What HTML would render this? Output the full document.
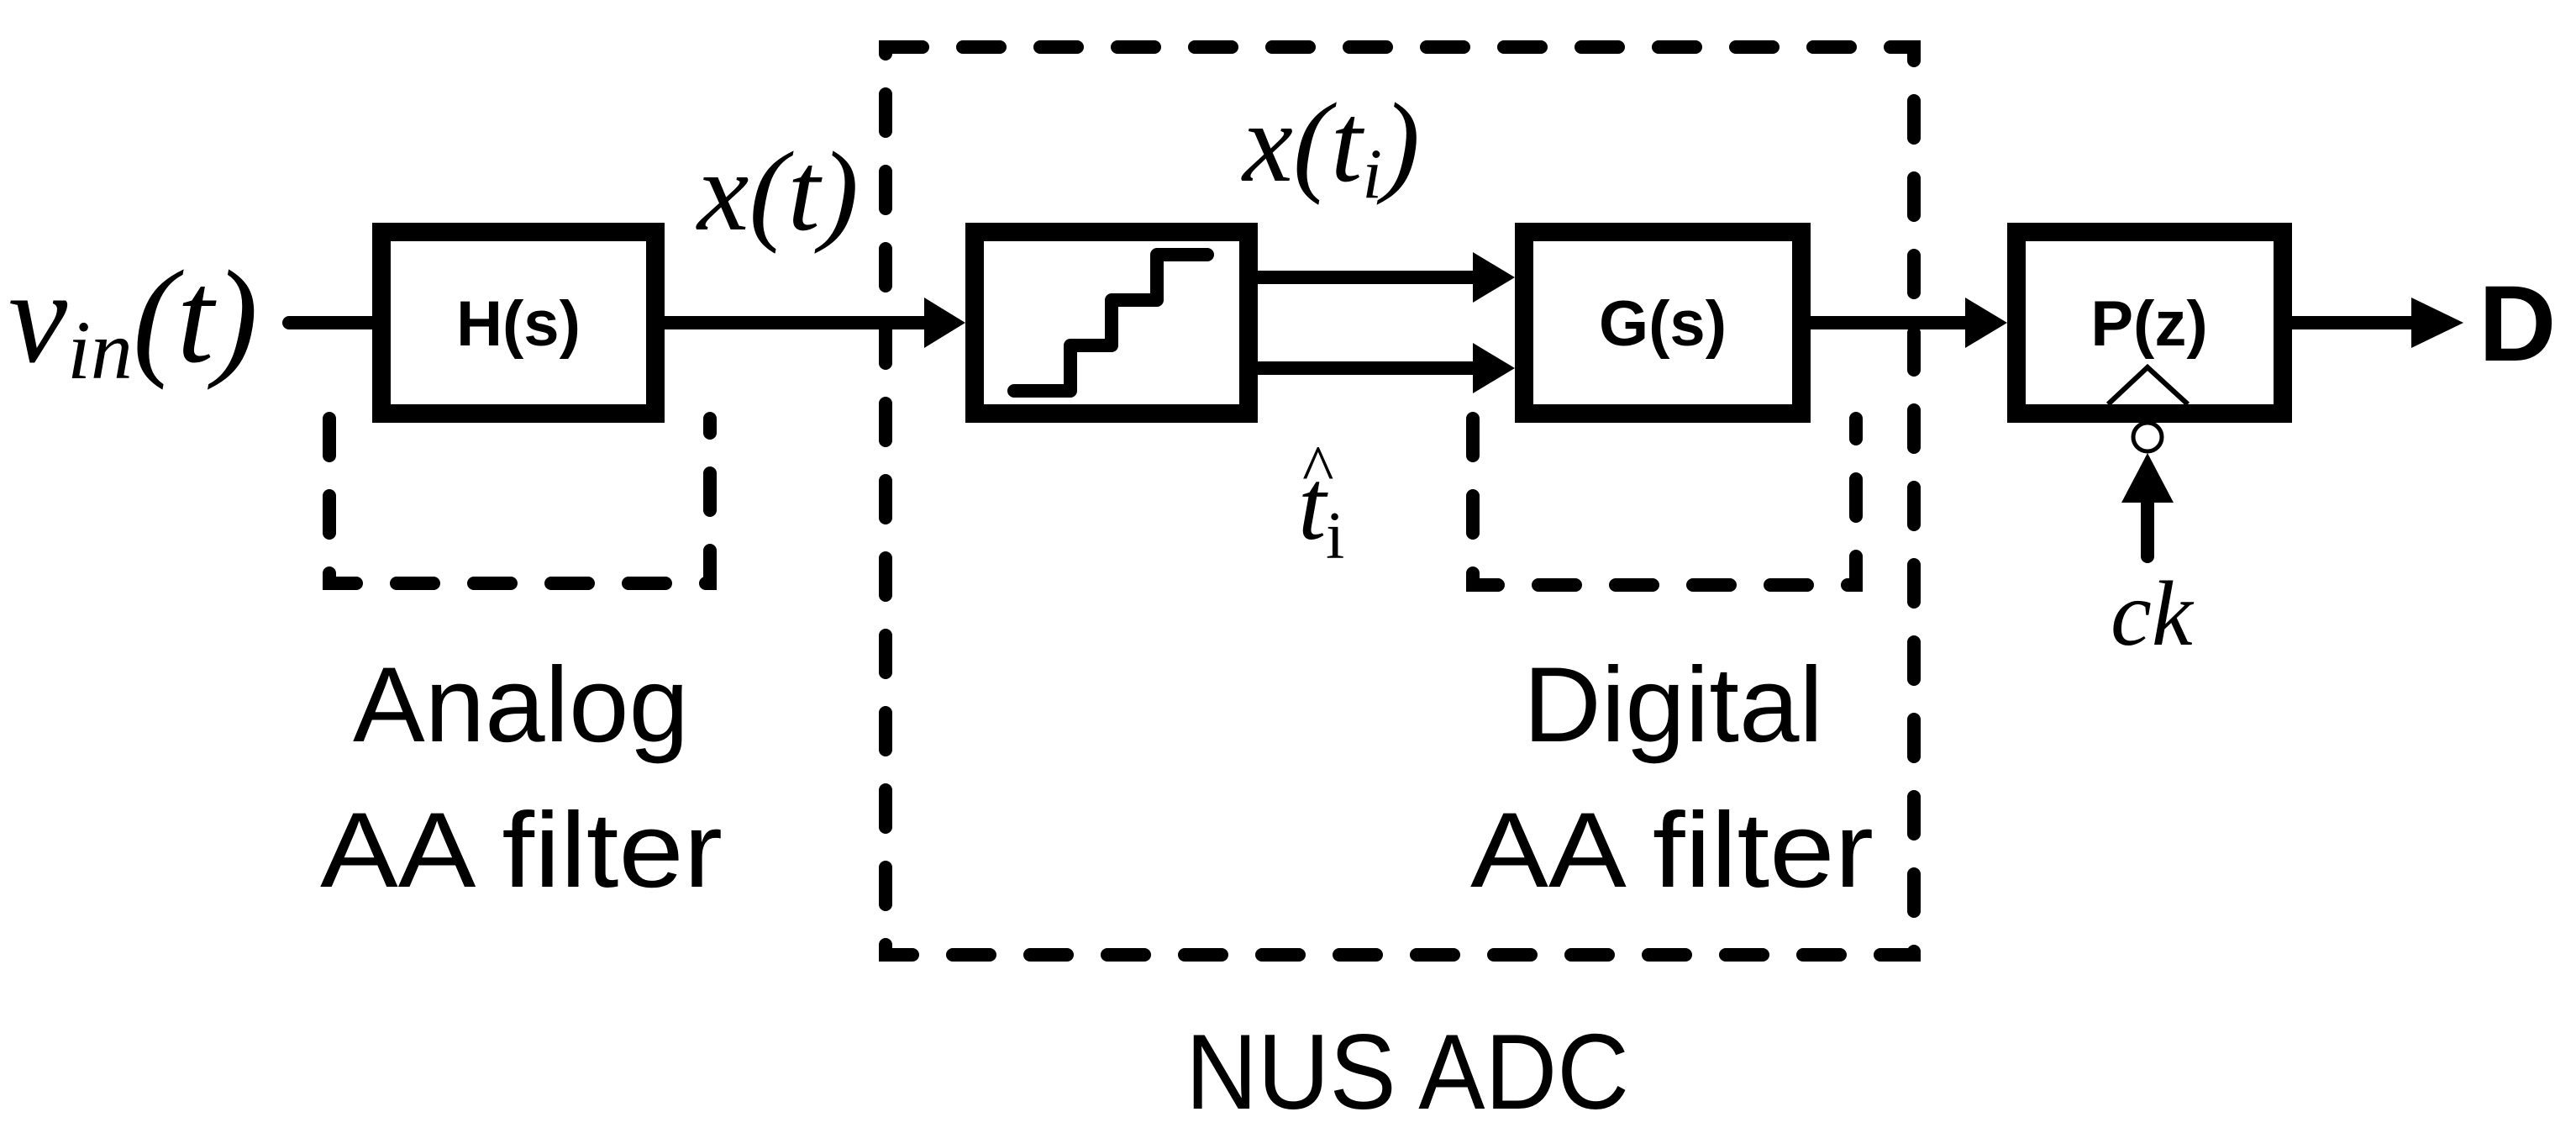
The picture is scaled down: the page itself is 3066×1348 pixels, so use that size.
<!DOCTYPE html>
<html><head><meta charset="utf-8"><style>html,body{margin:0;padding:0;background:#fff}svg{display:block}</style></head>
<body>
<svg width="3066" height="1348" viewBox="0 0 3066 1348" xmlns="http://www.w3.org/2000/svg">
<rect width="3066" height="1348" fill="#fff"/>
<g fill="none" stroke="#000" stroke-width="16" stroke-linecap="round" stroke-dasharray="44 48">
  <rect x="1054" y="56" width="1224" height="1080"/>
  <path d="M392 498 V694 H845 V498"/>
  <path d="M1753 498 V696 H2209 V498"/>
</g>
<g fill="none" stroke="#000" stroke-width="22">
  <rect x="454" y="276" width="326" height="216"/>
  <rect x="1160" y="276" width="326" height="216"/>
  <rect x="1814" y="276" width="330" height="216"/>
  <rect x="2400" y="276" width="317" height="216"/>
</g>
<g stroke="#000" stroke-width="16" fill="none">
  <line x1="344" y1="384" x2="443" y2="384" stroke-linecap="round"/>
  <line x1="791" y1="384" x2="1105" y2="384"/>
  <line x1="1497" y1="330" x2="1758" y2="330"/>
  <line x1="1497" y1="438" x2="1758" y2="438"/>
  <line x1="2155" y1="384" x2="2345" y2="384"/>
  <line x1="2728" y1="384" x2="2875" y2="384"/>
  <line x1="2556" y1="595" x2="2556" y2="662" stroke-linecap="round"/>
  <path d="M1207 465 H1274 V411 H1323 V357 H1377 V303 H1437" stroke-linecap="round" stroke-linejoin="round"/>
</g>
<g fill="#000">
  <polygon points="1100,354 1149,384 1100,414"/>
  <polygon points="1753,300 1803,330 1753,360"/>
  <polygon points="1753,408 1803,438 1753,468"/>
  <polygon points="2339,354 2389,384 2339,414"/>
  <polygon points="2870,354 2932,384 2870,414"/>
  <polygon points="2556,539 2525,598 2587,598"/>
</g>
<polyline points="2509,481 2556,437 2604,481" fill="none" stroke="#000" stroke-width="6"/>
<ellipse cx="2556" cy="520" rx="17" ry="17" fill="#fff" stroke="#000" stroke-width="5"/>

<g font-family="Liberation Sans, sans-serif" font-weight="bold" font-size="76" text-anchor="middle">
  <text x="617" y="411">H(s)</text>
  <text x="1979" y="411">G(s)</text>
  <text x="2558" y="411">P(z)</text>
  <text x="2950" y="429" font-size="128" text-anchor="start">D</text>
</g>
<g font-family="Liberation Sans, sans-serif" font-size="127">
  <text x="420" y="882" textLength="400" lengthAdjust="spacingAndGlyphs">Analog</text>
  <text x="381" y="1055" textLength="479" lengthAdjust="spacingAndGlyphs">AA filter</text>
  <text x="1813" y="882" textLength="357" lengthAdjust="spacingAndGlyphs">Digital</text>
  <text x="1750" y="1055" textLength="480" lengthAdjust="spacingAndGlyphs">AA filter</text>
  <text x="1411" y="1319" textLength="528" lengthAdjust="spacingAndGlyphs">NUS ADC</text>
</g>
<g font-family="Liberation Serif, serif" font-style="italic">
  <text x="10" y="430" font-size="158">v<tspan font-size="100" dy="20">in</tspan><tspan dy="-20">(t)</tspan></text>
  <text x="830" y="273" font-size="135" textLength="192" lengthAdjust="spacingAndGlyphs">x(t)</text>
  <text x="1479" y="215" font-size="135">x(t<tspan font-size="85" dy="20">i</tspan><tspan dy="-20">)</tspan></text>
  <text x="1545" y="641" font-size="120">t</text>
  <text x="2512" y="767" font-size="110">ck</text>
</g>
<text x="1550" y="585" font-family="Liberation Serif, serif" font-size="80">^</text>
<text x="1578" y="664" font-family="Liberation Serif, serif" font-size="80">i</text>
</svg>
</body></html>
